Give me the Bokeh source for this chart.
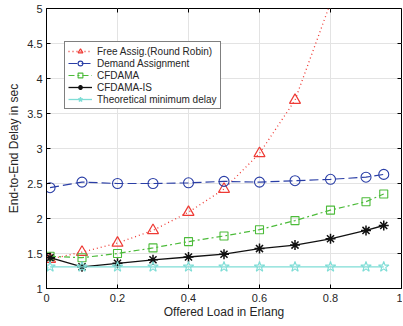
import math
from bokeh.plotting import figure
from bokeh.models import Range1d, Legend, LegendItem, FixedTicker
from bokeh.embed import file_html
from bokeh.resources import INLINE

load = [0.01, 0.1, 0.2, 0.3, 0.4, 0.5, 0.6, 0.7, 0.8, 0.9, 0.95]
free_load = [0.01, 0.1, 0.2, 0.3, 0.4, 0.5, 0.6, 0.7, 0.8]
free_assig = [1.42, 1.52, 1.65, 1.83, 2.09, 2.42, 2.93, 3.69, 5.08]
demand = [2.44, 2.52, 2.50, 2.50, 2.51, 2.53, 2.52, 2.54, 2.56, 2.59, 2.63]
cfdama = [1.46, 1.44, 1.50, 1.58, 1.67, 1.75, 1.84, 1.97, 2.12, 2.24, 2.35]
cfdama_is = [1.44, 1.31, 1.36, 1.41, 1.45, 1.49, 1.57, 1.62, 1.71, 1.83, 1.90]
theory = [1.31, 1.31, 1.31, 1.31, 1.31, 1.31, 1.31, 1.31, 1.31, 1.31, 1.31]

x_ticks = [0, 0.2, 0.4, 0.6, 0.8, 1]
y_ticks = [1, 1.5, 2, 2.5, 3, 3.5, 4, 4.5, 5]
y_tick_labels = {1: "1", 1.5: "1.5", 2: "2", 2.5: "2.5", 3: "3", 3.5: "3.5", 4: "4", 4.5: "4.5", 5: "5"}
x_min, x_max = 0, 1
y_min, y_max = 1, 5

FONT = "Liberation Sans"

p = figure(width=402, height=322, output_backend="svg", toolbar_location=None,
           x_range=Range1d(x_min, x_max), y_range=Range1d(y_min, y_max),
           min_border_left=46, min_border_right=1, min_border_top=8, min_border_bottom=34)
p.outline_line_color = "black"
p.outline_line_width = 1

for ax in [p.xaxis[0], p.yaxis[0]]:
    ax.major_tick_in = 4
    ax.major_tick_out = 0
    ax.minor_tick_line_color = None
    ax.axis_line_color = "black"
    ax.major_tick_line_color = "black"
    ax.major_label_text_font = FONT
    ax.major_label_text_font_size = "11px"
    ax.major_label_text_color = "#262626"
    ax.axis_label_text_font = FONT
    ax.axis_label_text_font_size = "12px"
    ax.axis_label_text_font_style = "normal"
    ax.axis_label_text_color = "#262626"

p.xaxis[0].major_label_standoff = 5
p.xaxis[0].axis_label_standoff = 0
p.yaxis[0].major_label_standoff = 4
p.yaxis[0].axis_label_standoff = 3

p.xaxis[0].ticker = FixedTicker(ticks=x_ticks)
p.yaxis[0].ticker = FixedTicker(ticks=y_ticks)
p.yaxis[0].major_label_overrides = y_tick_labels
p.xaxis[0].axis_label = "Offered Load in Erlang"
p.yaxis[0].axis_label = "End-to-End Delay in sec"

p.xgrid.ticker = FixedTicker(ticks=x_ticks)
p.ygrid.ticker = FixedTicker(ticks=y_ticks)
p.grid.grid_line_color = "#e3e3e3"
p.grid.grid_line_width = 1

# inward tick marks on the top and right edges of the box
p.ray(x=x_ticks, y=[y_max] * len(x_ticks), length=4, length_units="screen",
      angle=-math.pi / 2, line_color="black", line_width=1)
p.ray(x=[x_max] * len(y_ticks), y=y_ticks, length=4, length_units="screen",
      angle=math.pi, line_color="black", line_width=1)

RED = "#ee3b35"
BLUE = "#2a3ea6"
GREEN = "#4cbb3a"
BLACK = "#111111"
CYAN = "#7fddd6"

r1l = p.line(free_load, free_assig, line_color=RED, line_dash="1 3", line_width=1.3)
fx = [x for x, y in zip(free_load, free_assig) if y <= y_max]
fy = [y for y in free_assig if y <= y_max]
r1m = p.scatter(fx, fy, marker="triangle", size=11, line_color=RED, fill_alpha=0, line_width=1.2)

r2l = p.line(load, demand, line_color=BLUE, line_dash="9 4", line_width=1.2)
r2m = p.scatter(load, demand, marker="circle", size=10, line_color=BLUE, fill_alpha=0, line_width=1.1)

r3l = p.line(load, cfdama, line_color=GREEN, line_dash="6 3 2 3", line_width=1.2)
r3m = p.scatter(load, cfdama, marker="square", size=8, line_color=GREEN, fill_alpha=0, line_width=1.1)

r4l = p.line(load, cfdama_is, line_color=BLACK, line_width=1.3)
r4m = p.scatter(load, cfdama_is, marker="asterisk", size=10, line_color=BLACK, line_width=1.5)

r5l = p.line(load, theory, line_color=CYAN, line_width=1.3)
r5m = p.scatter(load, theory, marker="star", size=11, line_color=CYAN, fill_alpha=0, line_width=1.1)

legend = Legend(items=[
    LegendItem(label="Free Assig.(Round Robin)", renderers=[r1l, r1m]),
    LegendItem(label="Demand Assignment", renderers=[r2l, r2m]),
    LegendItem(label="CFDAMA", renderers=[r3l, r3m]),
    LegendItem(label="CFDAMA-IS", renderers=[r4l, r4m]),
    LegendItem(label="Theoretical minimum delay", renderers=[r5l, r5m]),
], location=(18, 179))
legend.label_text_font = FONT
legend.label_text_font_size = "10px"
legend.label_text_color = "#262626"
legend.glyph_width = 24
legend.glyph_height = 12
legend.label_height = 12
legend.spacing = 0
legend.padding = 3
legend.margin = 0
legend.label_standoff = 5
legend.border_line_color = "black"
legend.border_line_width = 1
legend.background_fill_alpha = 1
p.add_layout(legend, "center")

open("out.html", "w").write(file_html(p, INLINE))
